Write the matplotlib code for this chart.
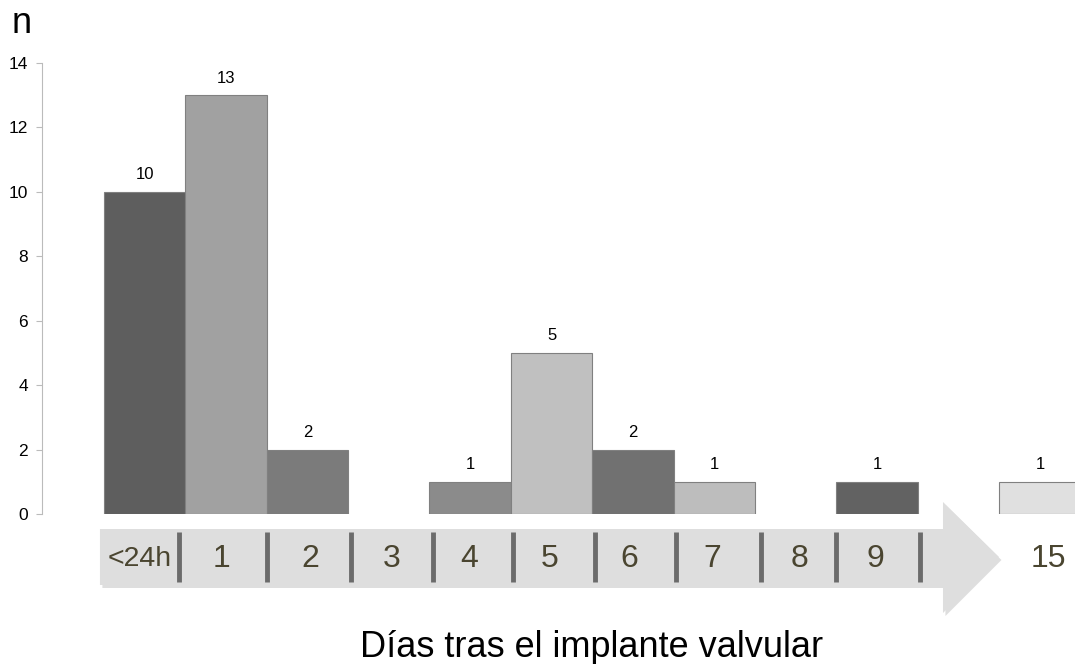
import numpy as np
import matplotlib.pyplot as plt
from matplotlib.patches import Polygon

plt.rcParams['font.family'] = ['Liberation Sans', 'DejaVu Sans']

# data
categories = ['<24h', '1', '2', '3', '4', '5', '6', '7', '8', '9', '15']
positions = [0, 1, 2, 3, 4, 5, 6, 7, 8, 9, 11]
counts = [10, 13, 2, 0, 1, 5, 2, 1, 0, 1, 1]
colors = ['#5e5e5e', '#a1a1a1', '#7b7b7b', '#999999', '#8b8b8b', '#c0c0c0',
          '#717171', '#bdbdbd', '#999999', '#626262', '#e0e0e0']
label_pos = [-0.06, 0.95, 2.04, 3.03, 3.99, 4.98, 5.96, 6.97, 8.05, 8.98, 11.1]
separators = [0.42, 1.5, 2.54, 3.54, 4.53, 5.53, 6.53, 7.57, 8.49, 9.53]

W, H = 1075, 664
fig = plt.figure(figsize=(W / 100, H / 100), dpi=100)

xl = (-1.26, 11.43)
ax = fig.add_axes([42 / W, 1 - 514 / H, 1 - 42 / W, (514 - 63) / H])
for p, c, col in zip(positions, counts, colors):
    if c > 0:
        ax.bar(p, c, width=1.0, color=col, edgecolor='#808080', linewidth=0.8)
        ax.text(p, c + 0.3, str(c), ha='center', va='bottom', fontsize=12)
ax.set_xlim(*xl)
ax.set_ylim(0, 14)
ax.set_yticks(np.arange(0, 15, 2))
ax.tick_params(axis='y', labelsize=12.5, length=4, color='#bbbbbb', pad=6)
ax.set_xticks([])
for s in ['top', 'right', 'bottom']:
    ax.spines[s].set_visible(False)
ax.spines['left'].set_color('#bbbbbb')
ax.spines['left'].set_bounds(0, 14)

# arrow timeline, y in pixel units
ax2 = fig.add_axes([42 / W, 1 - 622 / H, 1 - 42 / W, (622 - 495) / H])
ax2.set_xlim(*xl)
ax2.set_ylim(622, 495)
ax2.axis('off')

def px(x):
    return (x - 144.6) / 81.4

arrow = [(px(100), 529), (px(943), 529), (px(943), 502), (px(999), 557),
         (px(943), 613), (px(943), 585), (px(100), 585)]
shadow = [(x + 0.03, y + 3) for x, y in arrow]
ax2.add_patch(Polygon(shadow, closed=True, facecolor='#c8c8c8', edgecolor='none', alpha=0.6))
ax2.add_patch(Polygon(arrow, closed=True, facecolor='#dedede', edgecolor='none'))
for s in separators:
    ax2.plot([s, s], [532, 582], color='#6b6b6b', linewidth=3.5, solid_capstyle='butt')
for lp, lab in zip(label_pos, categories):
    fs = 20.5 if lab == '<24h' else 23
    ax2.text(lp, 559, lab, ha='center', va='center', fontsize=fs, color='#4a4530')

fig.text(12 / W, 1 - 33 / H, 'n', fontsize=26, va='baseline', ha='left')
fig.text(592 / W, 1 - 657 / H, 'Días tras el implante valvular', fontsize=26,
         ha='center', va='baseline')

fig.savefig('out.png', dpi=100)
